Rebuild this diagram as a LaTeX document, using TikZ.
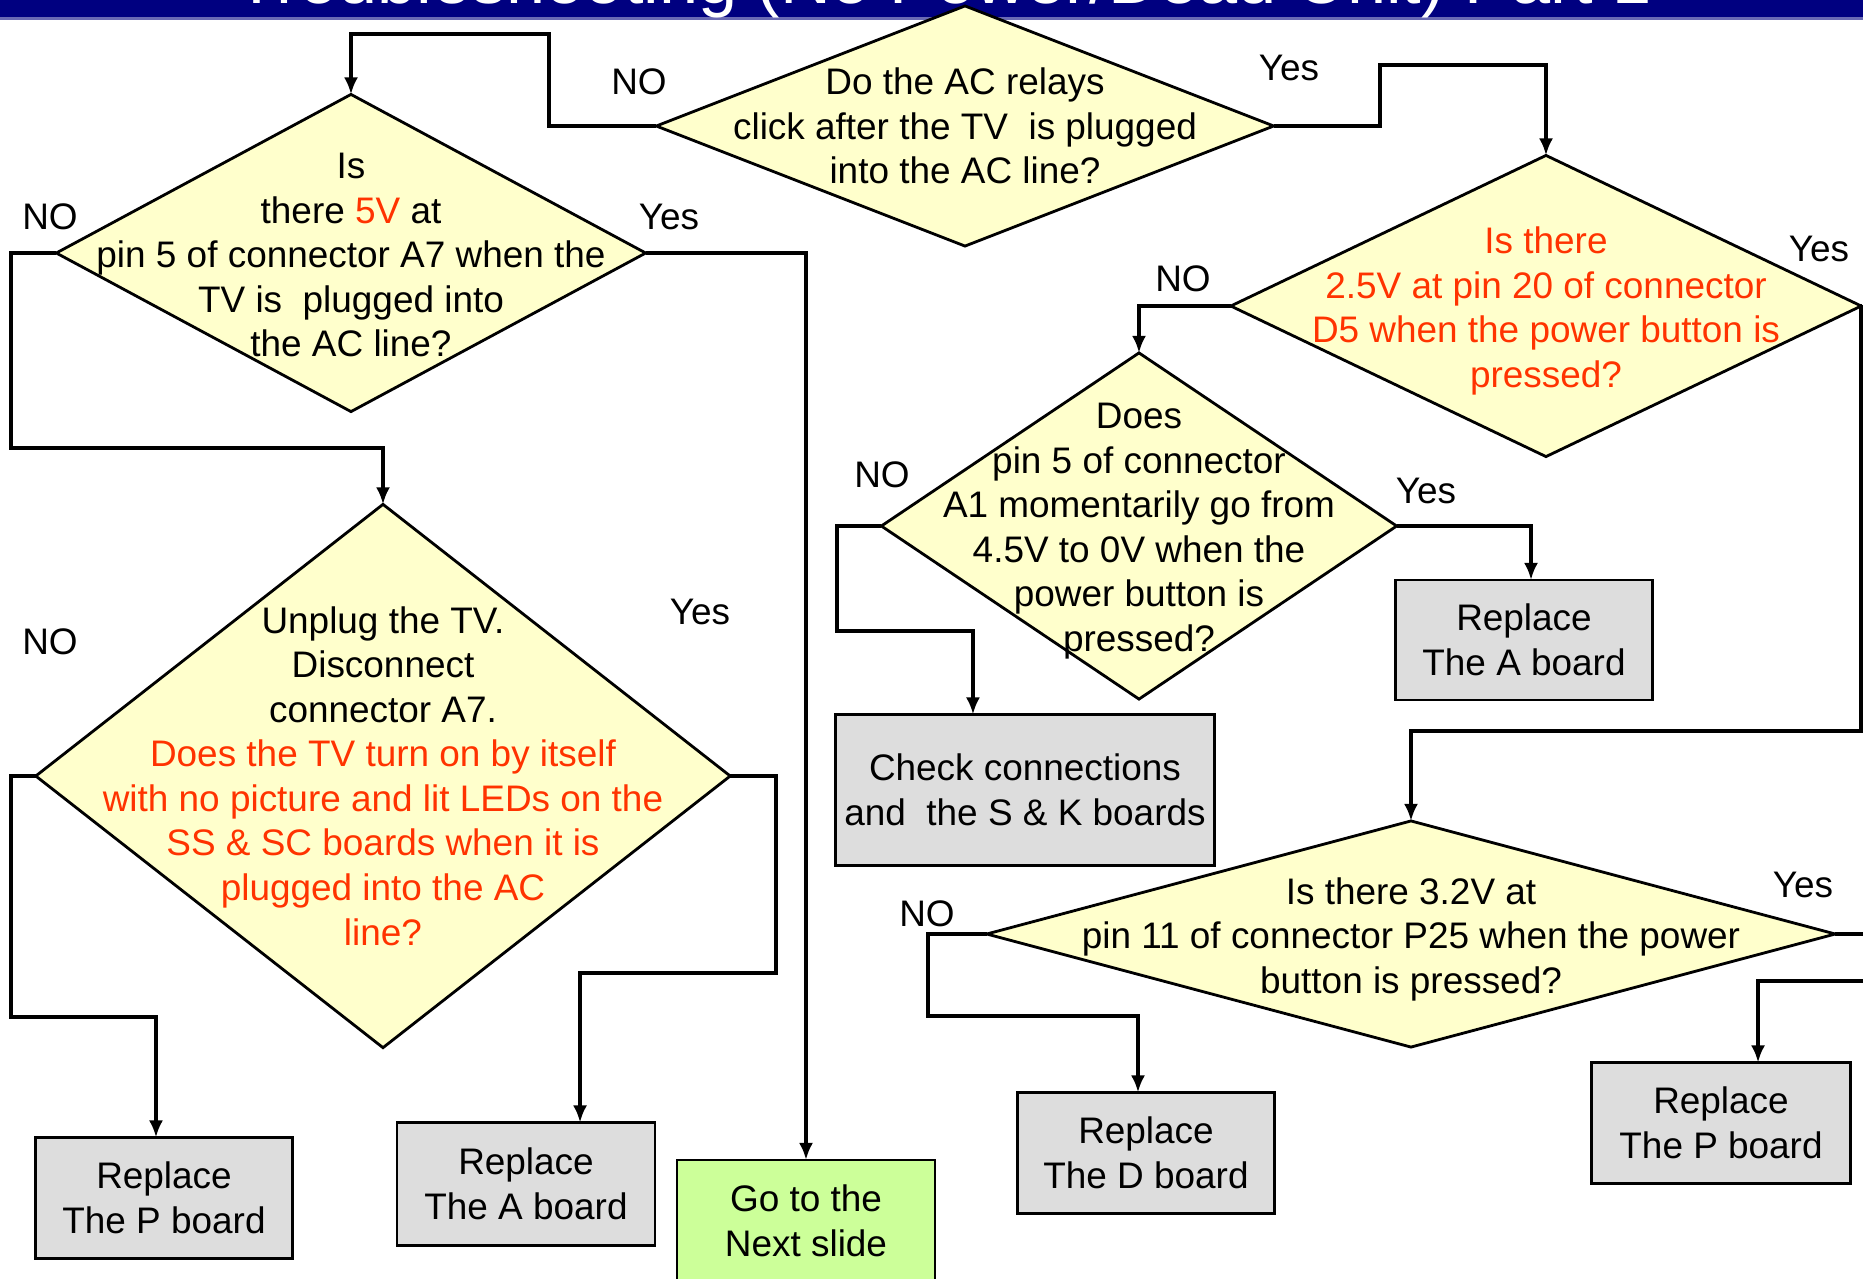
\documentclass[tikz,border=0pt]{standalone}
\usepackage{fontspec}
\setmainfont{Liberation Sans}
\usetikzlibrary{shapes.geometric,arrows.meta}
\definecolor{qyellow}{HTML}{FFFFCC}
\definecolor{boardgray}{HTML}{DDDDDD}
\definecolor{nextgreen}{HTML}{CCFF99}
\definecolor{alertred}{HTML}{FF3300}
\definecolor{bannerblue}{HTML}{000080}
\definecolor{stripblue}{HTML}{6A6AB4}

\begin{document}
\begin{tikzpicture}[x=0.01cm, y=-0.01cm, >={Latex[length=1.7mm,width=1.4mm]},
  font=\fontsize{10.5}{12.66}\selectfont]
\tikzstyle{query}=[draw, thick, diamond, fill=qyellow, inner sep=0pt, outer sep=0pt]
\tikzstyle{qtext}=[align=center, inner sep=0pt]
\tikzstyle{board}=[draw, thick, rectangle, fill=boardgray, align=center, inner sep=0pt, outer sep=0pt]
\tikzstyle{flow}=[very thick, ->]
\tikzstyle{answer}=[inner sep=0pt]

\useasboundingbox (0,0) rectangle (1863,1278);
\clip (0,0) rectangle (1863,1278);

\fill[bannerblue] (0,0) rectangle (1863,17);
\fill[stripblue] (0,17) rectangle (1863,20);
\node[white, anchor=base, font=\fontsize{20}{24}\selectfont] (title) at (944,3)
    {Troubleshooting (No Power/Dead Unit) Part 1};

\node[query, minimum width=6.17cm, minimum height=2.40cm] (relay)  at ( 965, 126) {};
\node[query, minimum width=5.89cm, minimum height=3.17cm] (fiveV)  at ( 351, 253) {};
\node[query, minimum width=6.94cm, minimum height=5.43cm] (unplug) at ( 383, 776) {};
\node[query, minimum width=6.30cm, minimum height=3.01cm] (twoV)   at (1546, 306) {};
\node[query, minimum width=5.15cm, minimum height=3.46cm] (pinA)   at (1139, 526) {};
\node[query, minimum width=8.48cm, minimum height=2.26cm] (threeV) at (1411, 934) {};

\node[qtext] (relayQ) at (relay)
    {Do the AC relays\\click after the TV\ \ is plugged\\into the AC line?};
\node[qtext] (fiveVQ) at (351,255)
    {Is\\there \textcolor{alertred}{5V} at\\pin 5 of connector A7 when the\\TV is\ \ plugged into\\the AC line?};
\node[qtext] (unplugQ) at (unplug)
    {Unplug the TV.\\Disconnect\\connector A7.\\
     \textcolor{alertred}{Does the TV turn on by itself}\\
     \textcolor{alertred}{with no picture and lit LEDs on the}\\
     \textcolor{alertred}{SS \& SC boards when it is}\\
     \textcolor{alertred}{plugged into the AC}\\
     \textcolor{alertred}{line?}};
\node[qtext, text=alertred] (twoVQ) at (1546,311)
    {Is there\\2.5V at pin 20 of connector\\D5 when the power button is\\pressed?};
\node[qtext] (pinAQ) at (1139,531)
    {Does\\pin 5 of connector\\A1 momentarily go from\\4.5V to 0V when the\\power button is\\pressed?};
\node[qtext] (threeVQ) at (1411,939)
    {Is there 3.2V at\\pin 11 of connector P25 when the power\\button is pressed?};

\node[board, minimum width=2.57cm, minimum height=1.21cm] (leftP)  at ( 164,1198) {Replace\\The P board};
\node[board, minimum width=2.58cm, minimum height=1.23cm] (midA)   at ( 526,1184) {Replace\\The A board};
\node[board, minimum width=2.58cm, minimum height=1.22cm, fill=nextgreen] (next) at (806,1221) {Go to the\\Next slide};
\node[board, minimum width=3.78cm, minimum height=1.51cm] (check)  at (1025, 790) {Check connections\\and\ \ the S \& K boards};
\node[board, minimum width=2.57cm, minimum height=1.20cm] (rightA) at (1524, 640) {Replace\\The A board};
\node[board, minimum width=2.57cm, minimum height=1.21cm] (boardD) at (1146,1153) {Replace\\The D board};
\node[board, minimum width=2.59cm, minimum height=1.21cm] (rightP) at (1721,1123) {Replace\\The P board};

\draw[flow] (relay.west) -| (549,34) -| (fiveV.north);
\draw[flow] (relay.east) -| (1380,65) -| (twoV.north);
\draw[flow] (fiveV.west) -| (11,448) -| (unplug.north);
\draw[flow] (fiveV.east) -| (next.north);
\draw[flow] (unplug.west) -| (11,1017) -| ([xshift=-0.08cm]leftP.north);
\draw[flow] (unplug.east) -| (776,973) -| ([xshift=0.54cm]midA.north);
\draw[flow] (twoV.west) -| (pinA.north);
\draw[flow] (twoV.east) -| (1861,731) -| (threeV.north);
\draw[flow] (pinA.west) -| (837,631) -| ([xshift=-0.52cm]check.north);
\draw[flow] (pinA.east) -| ([xshift=0.07cm]rightA.north);
\draw[flow] (threeV.west) -| (928,1016) -| ([xshift=-0.08cm]boardD.north);
\draw[flow] (threeV.east) -| (1867,981) -| ([xshift=0.37cm]rightP.north);

\node[answer] (relayNo)   at ( 639, 82) {NO};
\node[answer] (relayYes)  at (1289, 68) {Yes};
\node[answer] (fiveVNo)   at (  50,217) {NO};
\node[answer] (fiveVYes)  at ( 669,217) {Yes};
\node[answer] (unplugNo)  at (  50,642) {NO};
\node[answer] (unplugYes) at ( 700,612) {Yes};
\node[answer] (twoVNo)    at (1183,279) {NO};
\node[answer] (twoVYes)   at (1819,249) {Yes};
\node[answer] (pinANo)    at ( 882,475) {NO};
\node[answer] (pinAYes)   at (1426,491) {Yes};
\node[answer] (threeVNo)  at ( 927,914) {NO};
\node[answer] (threeVYes) at (1803,885) {Yes};
\end{tikzpicture}
\end{document}
